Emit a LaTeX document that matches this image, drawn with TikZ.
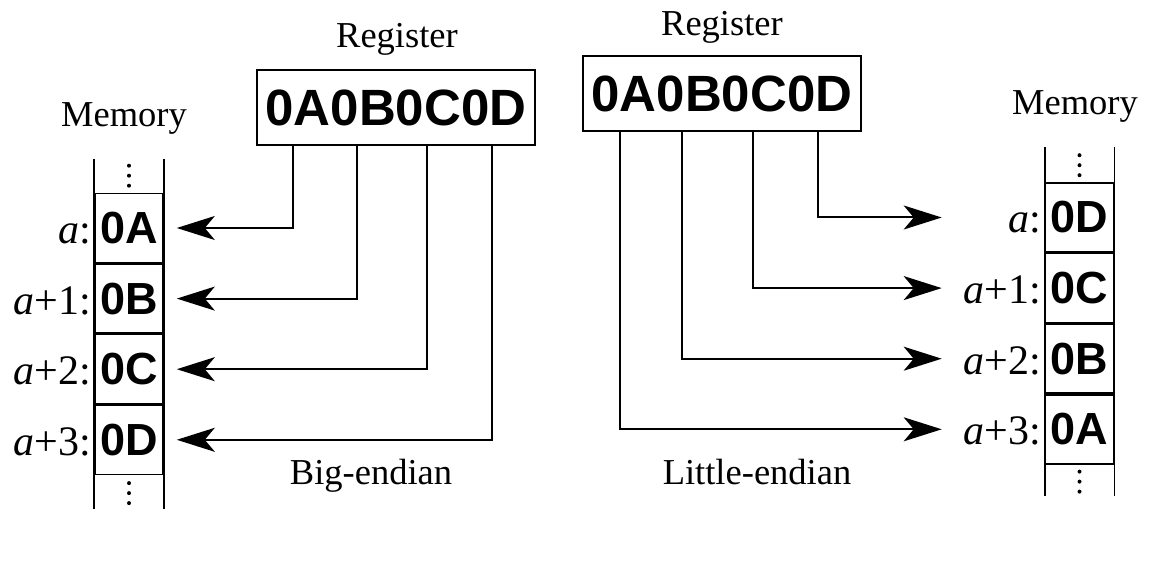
\documentclass[tikz,border=0pt]{standalone}
\usepackage{fontspec}
\setmainfont{Liberation Serif}
\newfontfamily\bsans{Liberation Sans Bold}
\usetikzlibrary{arrows.meta,calc}
\begin{document}
\begin{tikzpicture}[x=0.5pt,y=-0.5pt,
  regbox/.style={draw,line width=1pt,minimum width=139pt,minimum height=37.5pt,inner sep=0pt,
    font=\bsans\fontsize{25.5}{26}\selectfont},
  cell/.style={draw,line width=0.8pt,minimum width=34pt,minimum height=34.5pt,inner sep=0pt,
    font=\bsans\fontsize{22.5}{23}\selectfont},
  vdot/.style={fill=black},
  addr/.style={anchor=base east,inner sep=1.5pt,font=\fontsize{21}{22}\selectfont},
  lbl/.style={anchor=base,inner sep=0pt,font=\fontsize{18.25}{20}\selectfont},
  arr/.style={line width=1pt,-{Stealth[length=19pt,width=12pt,inset=5pt]}},
  colline/.style={line width=0.8pt}]
\useasboundingbox (0,0) rectangle (1156,566);

% ---------- Big-endian ----------
\node[lbl] (regLt) at (397,48) {Register};
\node[regbox] (regL) at (396,107.5) {0A0B0C0D};
\node[lbl] (memLt) at (124,127) {Memory};
\node[cell] (lA) at (129,228) {0A};
\node[cell,anchor=north] (lB) at (lA.south) {0B};
\node[cell,anchor=north] (lC) at (lB.south) {0C};
\node[cell,anchor=north] (lD) at (lC.south) {0D};
\coordinate (lTopW) at ($(lA.north west)+(0,-34)$);
\coordinate (lTopE) at ($(lA.north east)+(0,-34)$);
\coordinate (lBotW) at ($(lD.south west)+(0,34)$);
\coordinate (lBotE) at ($(lD.south east)+(0,34)$);
\coordinate (lTop) at ($(lA.north)+(0,-17)$);
\coordinate (lBot) at ($(lD.south)+(0,18)$);
\foreach \d in {-10,0,10} {
  \fill[vdot] ($(lTop)+(0,\d)$) circle (2);
  \fill[vdot] ($(lBot)+(0,\d)$) circle (2);
}
\draw[colline] (lTopW) -- (lBotW);
\draw[colline] (lTopE) -- (lBotE);
\node[addr] (alA) at (lA.base west) {\textit{a}:};
\node[addr] (alB) at (lB.base west) {\textit{a}+1:};
\node[addr] (alC) at (lC.base west) {\textit{a}+2:};
\node[addr] (alD) at (lD.base west) {\textit{a}+3:};
\draw[arr,shorten >=6.5pt] (regL.south west) ++(37,0) |- (lA.east);
\draw[arr,shorten >=6.5pt] (regL.south west) ++(101,0) |- (lB.east);
\draw[arr,shorten >=6.5pt] (regL.south west) ++(171,0) |- (lC.east);
\draw[arr,shorten >=6.5pt] (regL.south west) ++(236,0) |- (lD.east);
\node[lbl] (bigL) at (371,484) {Big-endian};

% ---------- Little-endian ----------
\node[lbl] (regRt) at (722,36) {Register};
\node[regbox] (regR) at (722,94) {0A0B0C0D};
\node[lbl] (memRt) at (1075,115) {Memory};
\node[cell] (rA) at (1079.5,217.5) {0D};
\node[cell,anchor=north] (rB) at (rA.south) {0C};
\node[cell,anchor=north] (rC) at (rB.south) {0B};
\node[cell,anchor=north] (rD) at (rC.south) {0A};
\coordinate (rTopW) at ($(rA.north west)+(0,-35)$);
\coordinate (rTopE) at ($(rA.north east)+(0,-35)$);
\coordinate (rBotW) at ($(rD.south west)+(0,31)$);
\coordinate (rBotE) at ($(rD.south east)+(0,31)$);
\coordinate (rTop) at ($(rA.north)+(0,-17)$);
\coordinate (rBot) at ($(rD.south)+(0,17)$);
\foreach \d in {-10,0,10} {
  \fill[vdot] ($(rTop)+(0,\d)$) circle (2);
  \fill[vdot] ($(rBot)+(0,\d)$) circle (2);
}
\draw[colline] (rTopW) -- (rBotW);
\draw[colline] (rTopE) -- (rBotE);
\node[addr] (arA) at (rA.base west) {\textit{a}:};
\node[addr] (arB) at (rB.base west) {\textit{a}+1:};
\node[addr] (arC) at (rC.base west) {\textit{a}+2:};
\node[addr] (arD) at (rD.base west) {\textit{a}+3:};
\draw[arr,shorten >=51.5pt] (regR.south west) ++(236,0) |- (rA.west);
\draw[arr,shorten >=51.5pt] (regR.south west) ++(171,0) |- (rB.west);
\draw[arr,shorten >=51.5pt] (regR.south west) ++(100,0) |- (rC.west);
\draw[arr,shorten >=51.5pt] (regR.south west) ++(38,0) |- (rD.west);
\node[lbl] (litL) at (757,484) {Little-endian};
\end{tikzpicture}
\end{document}
